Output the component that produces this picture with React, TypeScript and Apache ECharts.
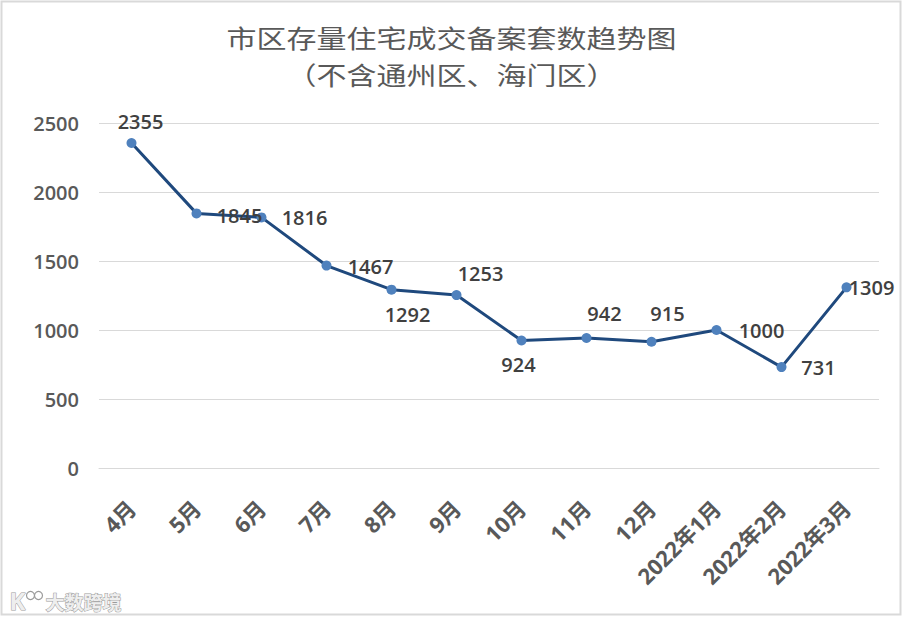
import React, { useEffect, useRef } from "react";
import * as echarts from "echarts";

const categories = ["4月", "5月", "6月", "7月", "8月", "9月", "10月", "11月", "12月", "2022年1月", "2022年2月", "2022年3月"];
const values = [2355, 1845, 1816, 1467, 1292, 1253, 924, 942, 915, 1000, 731, 1309];
const yTicks = { min: 0, max: 2500, interval: 500 };
const titleLines = ["市区存量住宅成交备案套数趋势图", "（不含通州区、海门区）"];
const watermark = "大数跨境";

// label offsets (styling only), relative to each point's centre
const labelOffsets: [number, number][] = [
  [9, -22], [43, 2], [43, 0], [44, 1], [16, 25], [24, -22],
  [-3, 24], [18, -25], [16, -28], [45, 0], [37, 0], [25, 0],
];

export default function App() {
  const ref = useRef<HTMLDivElement>(null);
  useEffect(() => {
    if (!ref.current) return;
    const chart = echarts.init(ref.current, undefined, { renderer: "svg" });
    const font = "'Open Sans', 'Noto Sans', sans-serif";
    const titleText = (text: string, y: number) => ({
      type: "text",
      x: 451.5,
      y,
      scaleX: 1.2,
      silent: true,
      style: {
        text,
        align: "center",
        verticalAlign: "middle",
        textAlign: "center",
        textVerticalAlign: "middle",
        fontFamily: "'Noto Sans CJK SC', sans-serif",
        fontSize: 25,
        fontWeight: "normal",
        fill: "#595959",
      },
    });
    chart.setOption({
      animation: false,
      backgroundColor: "#ffffff",
      grid: { left: 99, right: 24, top: 123, bottom: 150, containLabel: false },
      xAxis: {
        type: "category",
        data: categories,
        boundaryGap: true,
        axisLine: { show: true, lineStyle: { color: "#d9d9d9", width: 1 } },
        axisTick: { show: false },
        axisLabel: {
          rotate: 45,
          interval: 0,
          margin: 36,
          fontFamily: "'Open Sans', 'Noto Sans CJK SC', sans-serif",
          fontSize: 22,
          fontWeight: "bold",
          color: "#595959",
        },
      },
      yAxis: {
        type: "value",
        min: yTicks.min,
        max: yTicks.max,
        interval: yTicks.interval,
        axisLine: { show: false },
        axisTick: { show: false },
        splitLine: { lineStyle: { color: "#d9d9d9", width: 1 } },
        axisLabel: {
          margin: 20,
          formatter: (v: number) => String(v),
          fontFamily: font,
          fontSize: 20,
          fontWeight: 600,
          color: "#595959",
        },
      },
      series: [
        {
          type: "line",
          data: values.map((v, i) => ({
            value: v,
            label: { offset: labelOffsets[i] },
          })),
          symbol: "circle",
          symbolSize: 10,
          lineStyle: { color: "#1f497d", width: 3 },
          itemStyle: { color: "#4f81bd" },
          label: {
            show: true,
            position: "inside",
            fontFamily: font,
            fontSize: 20,
            fontWeight: 600,
            color: "#404040",
          },
          z: 3,
        },
      ],
      graphic: [
        {
          type: "rect",
          shape: { x: 1.5, y: 1.5, width: 899, height: 613 },
          style: { fill: "none", stroke: "#d9d9d9", lineWidth: 2 },
          silent: true,
        },
        titleText(titleLines[0], 37),
        titleText(titleLines[1], 74),
        {
          type: "group",
          left: 9,
          top: 588,
          children: [
            {
              type: "text",
              x: 0,
              y: 0,
              style: {
                text: "K",
                fontSize: 24,
                fontFamily: "'Noto Sans', sans-serif",
                fontWeight: "bold",
                fill: "#eeeeee",
                stroke: "#9a9a9a",
                lineWidth: 1,
              },
            },
            { type: "circle", shape: { cx: 21, cy: 7, r: 4 }, style: { fill: "#fff", stroke: "#9a9a9a", lineWidth: 1.2 } },
            { type: "circle", shape: { cx: 29, cy: 7, r: 4 }, style: { fill: "#fff", stroke: "#9a9a9a", lineWidth: 1.2 } },
            {
              type: "text",
              x: 36,
              y: 3,
              style: {
                text: watermark,
                fontSize: 19,
                fontFamily: "'Noto Sans CJK SC', sans-serif",
                fontWeight: "bold",
                fill: "#eeeeee",
                stroke: "#9a9a9a",
                lineWidth: 1,
              },
            },
          ],
        },
      ],
    });
    return () => chart.dispose();
  }, []);
  return (
    <div
      ref={ref}
      style={{ position: "fixed", left: 0, top: 0, width: 903, height: 618 }}
    />
  );
}
